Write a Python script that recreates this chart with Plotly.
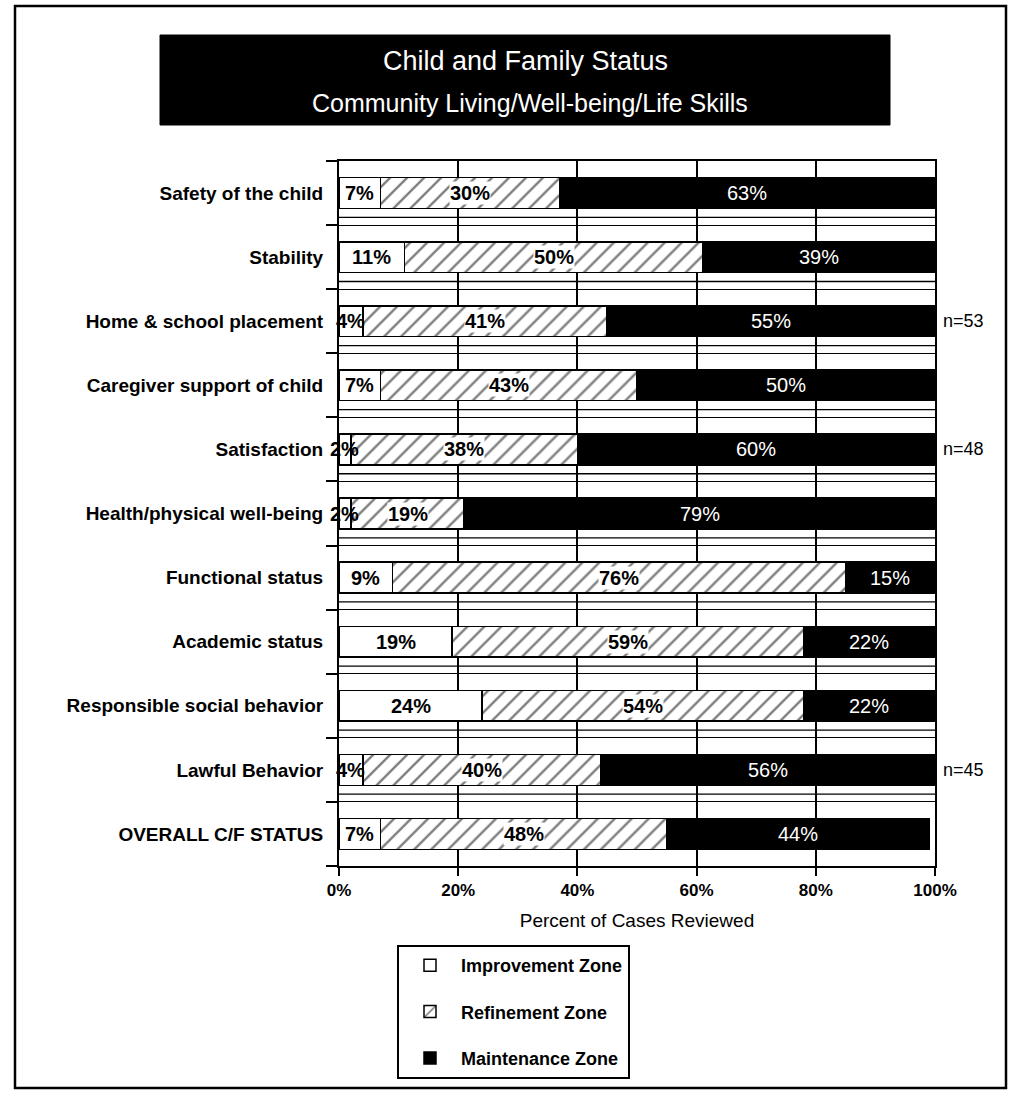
import plotly.graph_objects as go

categories = ["Safety of the child", "Stability", "Home & school placement",
              "Caregiver support of child", "Satisfaction", "Health/physical well-being",
              "Functional status", "Academic status", "Responsible social behavior",
              "Lawful Behavior", "OVERALL C/F STATUS"]
improvement = [7, 11, 4, 7, 2, 2, 9, 19, 24, 4, 7]
refinement = [30, 50, 41, 43, 38, 19, 76, 59, 54, 40, 48]
maintenance = [63, 39, 55, 50, 60, 79, 15, 22, 22, 56, 44]
sample_sizes = ["", "", "n=53", "", "n=48", "", "", "", "", "n=45", ""]
x_ticks = [0, 20, 40, 60, 80, 100]
x_ticktext = ["0%", "20%", "40%", "60%", "80%", "100%"]

FONT = "Liberation Sans, Arial, Helvetica, sans-serif"
idx = list(range(len(categories)))
W, H = 1013, 1093
L, R, T, B = 339, 78, 161, 227
pw, ph = W - L - R, H - T - B

def px_x(p):
    return (p - L) / pw

def px_y(p):
    return (H - B - p) / ph

fig = go.Figure()
fig.add_trace(go.Bar(
    y=idx, x=improvement, orientation="h", name="Improvement Zone", width=0.48,
    legendgroup="a",
    marker=dict(color="white", line=dict(color="black", width=1.5)),
    hoverinfo="skip"))
fig.add_trace(go.Bar(
    y=idx, x=refinement, orientation="h", name="Refinement Zone", width=0.48,
    legendgroup="b",
    marker=dict(color="white", line=dict(color="black", width=1.5),
                pattern=dict(shape="/", fgcolor="black", bgcolor="white",
                             size=12, solidity=0.2)),
    hoverinfo="skip"))
fig.add_trace(go.Bar(
    y=idx, x=maintenance, orientation="h", name="Maintenance Zone", width=0.48,
    legendgroup="c",
    marker=dict(color="black", line=dict(color="black", width=1.5)),
    hoverinfo="skip"))

annotations = []
for i in idx:
    a, b, c = improvement[i], refinement[i], maintenance[i]
    annotations.append(dict(x=a / 2, y=i, xref="x", yref="y", text=f"{a}%",
                            showarrow=False, xanchor="center",
                            font=dict(family=FONT, size=20, color="black", weight="bold")))
    annotations.append(dict(x=a + b / 2, y=i, xref="x", yref="y", text=f"{b}%",
                            showarrow=False, bgcolor="white", borderpad=0, xanchor="center",
                            font=dict(family=FONT, size=20, color="black", weight="bold")))
    annotations.append(dict(x=a + b + c / 2, y=i, xref="x", yref="y", text=f"{c}%",
                            showarrow=False, xanchor="center",
                            font=dict(family=FONT, size=20, color="white")))
    if sample_sizes[i]:
        annotations.append(dict(x=1, y=i, xref="paper", yref="y", text=sample_sizes[i],
                                showarrow=False, xanchor="left", xshift=6,
                                font=dict(family=FONT, size=18, color="black")))

# title block
annotations.append(dict(x=px_x(525), y=px_y(61), xref="paper", yref="paper",
                        xanchor="center", yanchor="middle",
                        text="Child and Family Status", showarrow=False,
                        font=dict(family=FONT, size=27, color="white")))
annotations.append(dict(x=px_x(530), y=px_y(103), xref="paper", yref="paper",
                        xanchor="center", yanchor="middle",
                        text="Community Living/Well-being/Life Skills", showarrow=False,
                        font=dict(family=FONT, size=25, color="white")))

shapes = [
    dict(type="rect", xref="paper", yref="paper", x0=px_x(15), x1=px_x(1006),
         y0=px_y(1088), y1=px_y(6), line=dict(color="black", width=2.5), layer="below"),
    dict(type="rect", xref="paper", yref="paper", x0=px_x(160), x1=px_x(890),
         y0=px_y(125), y1=px_y(35), fillcolor="black", line=dict(color="black", width=1),
         layer="below"),
]
for i in idx[:-1]:
    yb = i + 0.5 - 0.12
    shapes.append(dict(type="line", xref="x", yref="y", x0=0, x1=100, y0=yb, y1=yb,
                       line=dict(color="black", width=1.3), layer="below"))

fig.update_layout(
    width=W, height=H, autosize=False,
    margin=dict(l=L, r=R, t=T, b=B, pad=0),
    paper_bgcolor="white", plot_bgcolor="white",
    barmode="stack",
    font=dict(family=FONT, color="black"),
    showlegend=True,
    legend=dict(x=px_x(397), y=px_y(945), xanchor="left", yanchor="top",
                bordercolor="black", borderwidth=2, bgcolor="white",
                traceorder="grouped", tracegroupgap=20, itemwidth=52,
                font=dict(family=FONT, size=18, color="black", weight="bold")),
    annotations=annotations,
    shapes=shapes,
)
fig.update_xaxes(range=[0, 100], tickvals=x_ticks, ticktext=x_ticktext,
                 ticks="outside", ticklen=8, tickwidth=2, tickcolor="black",
                 showgrid=True, gridcolor="black", gridwidth=2,
                 showline=True, linecolor="black", linewidth=2, mirror=True,
                 zeroline=False,
                 tickfont=dict(family=FONT, size=17, color="black", weight="bold"),
                 title=dict(text="Percent of Cases Reviewed", standoff=14,
                            font=dict(family=FONT, size=19, color="black")))
fig.update_yaxes(range=[len(categories) - 0.5, -0.5], tickvals=idx, ticktext=categories,
                 ticks="", showgrid=False, zeroline=False,
                 showline=True, linecolor="black", linewidth=2, mirror=True,
                 ticklabelstandoff=10,
                 minor=dict(tickvals=[i - 0.5 for i in range(len(categories) + 1)],
                            ticks="outside", ticklen=11, tickwidth=1.5, tickcolor="black",
                            showgrid=True, gridcolor="black", gridwidth=1.3),
                 tickfont=dict(family=FONT, size=19, color="black", weight="bold"))

fig.write_html("out.html")
